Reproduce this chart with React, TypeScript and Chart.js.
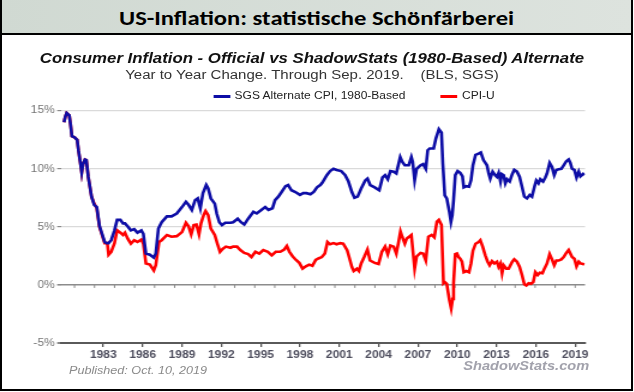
import React, { useEffect, useRef } from "react";
import { Chart, registerables } from "chart.js";
Chart.register(...registerables);

const HEADER = "US-Inflation: statistische Schönfärberei";
const TITLE = "Consumer Inflation - Official vs ShadowStats (1980-Based) Alternate";
const SUBTITLE = "Year to Year Change. Through Sep. 2019.    (BLS, SGS)";
const PUBLISHED = "Published: Oct. 10, 2019";
const SOURCE = "ShadowStats.com";
const SGS_LABEL = "SGS Alternate CPI, 1980-Based";
const CPI_LABEL = "CPI-U";
const SGS_COLOR = "#0d0da6";
const CPI_COLOR = "#ff0000";

const xTickYears = [1983, 1986, 1989, 1992, 1995, 1998, 2001, 2004, 2007, 2010, 2013, 2016, 2019];
const yTickValues = [-5, 0, 5, 10, 15];
const xMin = 1979.75;
const xMax = 2019.75;
const zeroTickFirst = 1980.8;
const zeroTickLast = 2019.0;
const zeroTickCount = 26;

const sgsYears = [
  1980.0, 1980.1, 1980.2, 1980.4, 1980.5, 1980.6, 1980.8, 1981.0, 1981.1, 1981.25,
  1981.35, 1981.45, 1981.6, 1981.7, 1981.85, 1982.1, 1982.3, 1982.5, 1982.7, 1982.9,
  1983.1, 1983.25, 1983.4, 1983.6, 1983.85, 1984.05, 1984.3, 1984.5, 1984.65, 1984.85,
  1985.1, 1985.35, 1985.6, 1985.9, 1986.05, 1986.25, 1986.55, 1986.85, 1987.0, 1987.2,
  1987.45, 1987.85, 1988.2, 1988.6, 1989.0, 1989.3, 1989.5, 1989.75, 1990.0, 1990.2,
  1990.4, 1990.6, 1990.85, 1991.0, 1991.2, 1991.5, 1991.65, 1991.85, 1992.05, 1992.3,
  1992.7, 1992.9, 1993.25, 1993.5, 1993.75, 1994.05, 1994.45, 1994.7, 1995.05, 1995.35,
  1995.6, 1995.9, 1996.1, 1996.35, 1996.6, 1996.9, 1997.1, 1997.35, 1997.65, 1998.0,
  1998.25, 1998.5, 1998.8, 1999.05, 1999.3, 1999.55, 1999.7, 2000.05, 2000.3, 2000.56,
  2000.8, 2001.15, 2001.45, 2001.7, 2001.96, 2002.16, 2002.4, 2002.67, 2002.98, 2003.15,
  2003.36, 2003.7, 2004.05, 2004.3, 2004.5, 2004.7, 2004.9, 2005.15, 2005.35, 2005.5,
  2005.65, 2005.8, 2006.0, 2006.3, 2006.5, 2006.6, 2006.75, 2006.9, 2007.2, 2007.4,
  2007.6, 2007.75, 2007.9, 2008.2, 2008.37, 2008.6, 2008.8, 2008.9, 2009.05, 2009.2,
  2009.4, 2009.52, 2009.62, 2009.72, 2009.85, 2010.03, 2010.23, 2010.4, 2010.5, 2010.7,
  2010.9, 2011.05, 2011.2, 2011.4, 2011.63, 2011.8, 2012.0, 2012.27, 2012.4, 2012.52,
  2012.7, 2012.9, 2013.03, 2013.16, 2013.3, 2013.4, 2013.54, 2013.67, 2013.8, 2014.0,
  2014.2, 2014.35, 2014.56, 2014.76, 2014.94, 2015.12, 2015.32, 2015.53, 2015.7, 2015.9,
  2016.03, 2016.2, 2016.34, 2016.55, 2016.72, 2016.85, 2017.05, 2017.23, 2017.4, 2017.56,
  2017.74, 2017.94, 2018.12, 2018.32, 2018.5, 2018.63, 2018.76, 2018.94, 2019.1, 2019.27,
  2019.4, 2019.6, 2019.7,
];
const sgsValues = [
  14.0, 14.5, 14.8, 14.6, 13.8, 12.8, 12.7, 12.5, 11.6, 10.5,
  9.7, 10.4, 10.8, 10.75, 9.3, 7.6, 6.9, 6.7, 5.1, 4.4,
  3.7, 3.6, 3.6, 3.85, 4.7, 5.6, 5.6, 5.3, 5.3, 5.05,
  4.7, 4.8, 4.5, 4.7, 4.4, 2.7, 2.6, 2.35, 2.7, 4.85,
  5.4, 5.9, 5.9, 6.15, 6.7, 7.15, 6.9, 6.45, 7.3, 7.45,
  6.6, 7.9, 8.6, 8.3, 7.45, 7.0, 6.15, 5.4, 5.15, 5.35,
  5.35, 5.4, 5.7, 5.4, 5.2, 5.7, 6.3, 6.15, 6.45, 6.7,
  6.45, 6.6, 7.3, 7.6, 8.0, 8.5, 8.6, 8.15, 8.0, 7.75,
  7.9, 7.9, 7.8, 8.0, 8.4, 8.6, 8.8, 9.45, 9.8, 10.0,
  9.9, 9.8, 9.45, 8.9, 8.0, 7.5, 7.6, 8.3, 9.0, 9.15,
  8.6, 8.4, 8.15, 9.25, 9.45, 9.1, 9.8, 9.75, 9.6, 10.3,
  11.0, 10.6, 10.3, 10.3, 11.0, 10.6, 9.0, 10.0, 10.3, 10.4,
  10.0, 11.6, 11.75, 11.75, 12.6, 13.4, 13.1, 10.45, 7.7, 7.45,
  6.3, 5.43, 6.0, 7.3, 9.45, 9.8, 9.65, 9.35, 8.4, 8.5,
  8.45, 9.0, 10.3, 11.2, 11.3, 11.4, 10.75, 10.3, 9.6, 9.15,
  9.75, 9.45, 9.3, 9.65, 8.9, 9.55, 9.45, 8.75, 9.1, 8.9,
  9.55, 9.9, 9.75, 9.3, 8.45, 7.6, 7.45, 7.75, 7.6, 8.5,
  9.0, 8.75, 9.1, 8.9, 9.25, 9.6, 10.5, 10.15, 9.45, 9.9,
  9.95, 10.0, 10.3, 10.65, 10.8, 10.5, 10.0, 9.9, 9.25, 9.75,
  9.35, 9.55, 9.45,
];

const cpiYears = [
  1980.0, 1980.1, 1980.2, 1980.4, 1980.5, 1980.6, 1980.8, 1981.0, 1981.1, 1981.25,
  1981.35, 1981.45, 1981.6, 1981.7, 1981.85, 1982.1, 1982.3, 1982.5, 1982.7, 1982.9,
  1983.1, 1983.3, 1983.4, 1983.6, 1983.85, 1984.05, 1984.3, 1984.5, 1984.65, 1984.85,
  1985.1, 1985.35, 1985.6, 1985.9, 1986.05, 1986.25, 1986.55, 1986.85, 1987.0, 1987.25,
  1987.45, 1987.85, 1988.2, 1988.6, 1989.0, 1989.3, 1989.5, 1989.7, 1989.9, 1990.1,
  1990.3, 1990.45, 1990.65, 1990.8, 1991.0, 1991.2, 1991.5, 1991.7, 1991.9, 1992.1,
  1992.35, 1992.7, 1992.9, 1993.2, 1993.45, 1993.75, 1994.05, 1994.3, 1994.6, 1994.9,
  1995.2, 1995.55, 1995.85, 1996.15, 1996.5, 1996.8, 1997.0, 1997.2, 1997.45, 1997.7,
  1997.95, 1998.2, 1998.45, 1998.7, 1998.95, 1999.2, 1999.45, 1999.67, 1999.9, 2000.1,
  2000.3, 2000.56, 2000.8, 2001.07, 2001.3, 2001.6, 2001.75, 2001.96, 2002.1, 2002.35,
  2002.5, 2002.67, 2002.9, 2003.15, 2003.35, 2003.7, 2004.0, 2004.25, 2004.5, 2004.7,
  2004.9, 2005.15, 2005.35, 2005.5, 2005.67, 2005.8, 2006.0, 2006.15, 2006.33, 2006.5,
  2006.75, 2006.9, 2007.2, 2007.4, 2007.6, 2007.8, 2008.05, 2008.25, 2008.45, 2008.6,
  2008.8, 2008.95, 2009.04, 2009.2, 2009.4, 2009.54, 2009.65, 2009.72, 2009.85, 2009.98,
  2010.1, 2010.23, 2010.36, 2010.5, 2010.7, 2010.9, 2011.05, 2011.2, 2011.4, 2011.63,
  2011.76, 2011.94, 2012.14, 2012.32, 2012.47, 2012.65, 2012.83, 2013.03, 2013.16, 2013.3,
  2013.42, 2013.54, 2013.75, 2013.92, 2014.2, 2014.35, 2014.56, 2014.76, 2014.94, 2015.12,
  2015.27, 2015.45, 2015.63, 2015.8, 2015.96, 2016.14, 2016.3, 2016.5, 2016.65, 2016.85,
  2017.05, 2017.23, 2017.4, 2017.56, 2017.74, 2017.94, 2018.12, 2018.32, 2018.5, 2018.63,
  2018.76, 2018.94, 2019.1, 2019.27, 2019.4, 2019.6, 2019.7,
];
const cpiValues = [
  14.0, 14.5, 14.8, 14.6, 13.8, 12.8, 12.7, 12.5, 11.6, 10.5,
  9.7, 10.4, 10.8, 10.75, 9.3, 7.6, 7.0, 6.6, 5.0, 4.3,
  3.6, 3.6, 2.6, 2.85, 3.6, 4.7, 4.5, 4.3, 4.5, 4.0,
  3.55, 3.85, 3.7, 3.9, 3.55, 1.85, 1.75, 1.25, 1.7, 3.7,
  3.85, 4.3, 4.15, 4.2, 4.55, 5.35, 5.05, 4.35, 5.15, 5.2,
  4.35, 5.3, 6.0, 6.35, 6.0, 4.85, 4.3, 3.55, 2.85, 3.1,
  3.3, 3.2, 3.3, 3.3, 3.0, 2.75, 2.65, 2.4, 2.85, 2.7,
  3.0, 2.85, 2.55, 2.85, 2.85, 3.05, 3.35, 2.85, 2.45, 2.15,
  1.9, 1.4, 1.6, 1.75, 1.65, 2.15, 2.3, 2.4, 2.7, 3.7,
  3.5, 3.6, 3.5, 3.6, 3.55, 3.0, 2.4, 1.55, 1.2, 1.4,
  1.2, 1.85, 2.4, 3.05, 2.1, 1.9, 1.8, 2.85, 3.3, 2.65,
  3.4, 3.3, 2.7, 3.55, 4.6, 4.15, 3.55, 4.0, 4.15, 4.3,
  1.4, 2.45, 2.75, 2.7, 2.1, 4.15, 4.3, 4.1, 5.45, 5.6,
  5.15, 0.15, 0.25, 0.1, -1.3, -2.03, -1.2, 0.15, 2.65, 2.7,
  2.4, 2.25, 2.0, 1.1, 1.2, 1.1, 1.85, 2.95, 3.55, 3.7,
  3.85, 3.3, 2.55, 2.0, 1.7, 2.05, 1.85, 2.0, 1.55, 1.85,
  1.0, 1.7, 1.4, 1.4, 2.0, 2.2, 2.0, 1.55, 0.85, 0.05,
  -0.05, 0.15, 0.1, 0.25, 1.1, 0.85, 1.05, 1.0, 1.4, 1.85,
  2.65, 2.2, 1.7, 2.1, 2.1, 2.2, 2.4, 2.75, 3.0, 2.7,
  2.4, 2.25, 1.6, 2.0, 1.85, 1.8, 1.75,
];

// horizontal stretch of the pasted chart picture
const STRETCH = 1.2;
const FONT = '"Liberation Sans", Arial, sans-serif';

const zeroLineTicks = {
  id: "zeroLineTicks",
  beforeDatasetsDraw(chart: any) {
    const { ctx, scales } = chart;
    const x = scales.x;
    const y = scales.y;
    const y0 = y.getPixelForValue(0);
    ctx.save();
    ctx.strokeStyle = "#8a8a8a";
    ctx.lineWidth = 1;
    for (let i = 0; i < zeroTickCount; i++) {
      const v = zeroTickFirst + ((zeroTickLast - zeroTickFirst) * i) / (zeroTickCount - 1);
      const px = x.getPixelForValue(v);
      ctx.beginPath();
      ctx.moveTo(px, y0);
      ctx.lineTo(px, y0 + 3);
      ctx.stroke();
    }
    ctx.restore();
  },
};

function ChartCanvas() {
  const ref = useRef<HTMLCanvasElement>(null);
  useEffect(() => {
    const chart = new Chart(ref.current!, {
      type: "line",
      data: {
        datasets: [
          {
            label: SGS_LABEL,
            data: sgsYears.map((x, i) => ({ x, y: sgsValues[i] })),
            borderColor: SGS_COLOR,
            borderWidth: 2.6,
            pointRadius: 0,
            tension: 0,
            fill: false,
          },
          {
            label: CPI_LABEL,
            data: cpiYears.map((x, i) => ({ x, y: cpiValues[i] })),
            borderColor: CPI_COLOR,
            borderWidth: 2.6,
            pointRadius: 0,
            tension: 0,
            fill: false,
          },
        ],
      },
      options: {
        animation: false,
        responsive: false,
        maintainAspectRatio: false,
        layout: { padding: { left: 0, right: 12.5, top: 10.7, bottom: 0 } },
        plugins: { legend: { display: false }, tooltip: { enabled: false }, title: { display: false } },
        scales: {
          x: {
            type: "linear",
            min: xMin,
            max: xMax,
            afterBuildTicks: (s: any) => {
              s.ticks = xTickYears.map((v) => ({ value: v }));
            },
            afterFit: (s: any) => {
              s.height = 27;
            },
            grid: { drawOnChartArea: false, drawTicks: true, tickLength: 4, color: "#555", lineWidth: 1.3 },
            border: { display: true, color: "#5a5a5a", width: 2 },
            ticks: {
              autoSkip: false,
              maxRotation: 0,
              padding: 2,
              color: "#4e4e5e",
              font: { family: FONT, size: 10, weight: "bold" },
              callback: (v: any) => String(v),
            },
          },
          y: {
            min: -5,
            max: 15,
            afterBuildTicks: (s: any) => {
              s.ticks = yTickValues.map((v) => ({ value: v }));
            },
            afterFit: (s: any) => {
              s.width = 50.6;
            },
            grid: {
              color: (c: any) => (c.tick && c.tick.value === 0 ? "#8c8c8c" : c.tick && c.tick.value === -5 ? "#5a5a5a" : "#dadada"),
              lineWidth: (c: any) => (c.tick && c.tick.value === 0 ? 1.6 : c.tick && c.tick.value === -5 ? 2 : 1.2),
              tickColor: "#8a8a8a",
              tickLength: 3,
              drawTicks: true,
            },
            border: { display: false },
            ticks: {
              padding: 2,
              color: "#767676",
              font: { family: FONT, size: 10 },
              callback: (v: any) => `${v}%`,
            },
          },
        },
      },
      plugins: [zeroLineTicks],
    });
    return () => chart.destroy();
  }, []);
  return (
    <canvas
      ref={ref}
      width={500}
      height={270}
      style={{ position: "absolute", left: 0, top: 100, width: 500, height: 270 }}
    />
  );
}

const legendItems = [
  { label: SGS_LABEL, color: SGS_COLOR, left: 177.5 },
  { label: CPI_LABEL, color: CPI_COLOR, left: 367 },
];

export default function App() {
  return (
    <div
      style={{
        position: "fixed",
        left: 0,
        top: 0,
        width: 634,
        height: 392,
        background: "#fff",
        overflow: "hidden",
        fontFamily: FONT,
      }}
    >
      {/* stretched chart picture layer */}
      <div
        style={{
          position: "absolute",
          left: 0,
          top: 0,
          width: 634 / STRETCH,
          height: 392,
          transform: `scaleX(${STRETCH})`,
          transformOrigin: "0 0",
        }}
      >
        <ChartCanvas />
        <div
          style={{
            position: "absolute",
            left: 0,
            width: 520,
            top: 50.5,
            lineHeight: "14px",
            textAlign: "center",
            fontSize: 14,
            fontWeight: "bold",
            fontStyle: "italic",
            color: "#111",
            whiteSpace: "pre",
          }}
        >
          {TITLE}
        </div>
        <div
          style={{
            position: "absolute",
            left: 0,
            width: 520,
            top: 68.7,
            lineHeight: "13px",
            textAlign: "center",
            fontSize: 12.5,
            color: "#333",
            whiteSpace: "pre",
          }}
        >
          {SUBTITLE}
        </div>
        {legendItems.map((it) => (
          <div
            key={it.label}
            style={{ position: "absolute", left: it.left, top: 90, height: 12, display: "flex", alignItems: "center" }}
          >
            <div style={{ width: 14, height: 3, background: it.color }} />
            <div style={{ marginLeft: 4, fontSize: 10, lineHeight: "12px", color: "#222", whiteSpace: "pre" }}>
              {it.label}
            </div>
          </div>
        ))}
        <div
          style={{
            position: "absolute",
            left: 57.5,
            top: 364.4,
            lineHeight: "12px",
            fontSize: 10.5,
            fontStyle: "italic",
            color: "#8a8a8a",
            whiteSpace: "pre",
          }}
        >
          {PUBLISHED}
        </div>
        <div
          style={{
            position: "absolute",
            right: 634 / STRETCH - 491,
            top: 358.8,
            lineHeight: "14px",
            fontSize: 12.2,
            fontWeight: "bold",
            fontStyle: "italic",
            color: "#a2a2ac",
            whiteSpace: "pre",
          }}
        >
          {SOURCE}
        </div>
      </div>

      {/* header band */}
      <div
        style={{
          position: "absolute",
          left: 0,
          top: 0,
          width: 633,
          height: 35,
          boxSizing: "border-box",
          borderBottom: "2px solid #000",
          background: "linear-gradient(90deg, #d0d9d2, #dde3de)",
          display: "flex",
          alignItems: "center",
          justifyContent: "center",
          paddingTop: 2,
        }}
      >
        <div
          style={{
            fontFamily: 'Carlito, Lato, "Open Sans", sans-serif',
            fontWeight: 700,
            fontSize: 20.5,
            color: "#000",
            whiteSpace: "pre",
            transform: `scaleX(${STRETCH})`,
            transformOrigin: "50% 50%",
          }}
        >
          {HEADER}
        </div>
      </div>

      {/* frame */}
      <div
        style={{
          position: "absolute",
          left: 0,
          top: 0,
          width: 633,
          height: 391,
          boxSizing: "border-box",
          borderLeft: "2px solid #000",
          borderRight: "2px solid #000",
          borderBottom: "2px solid #000",
          pointerEvents: "none",
        }}
      />
    </div>
  );
}
